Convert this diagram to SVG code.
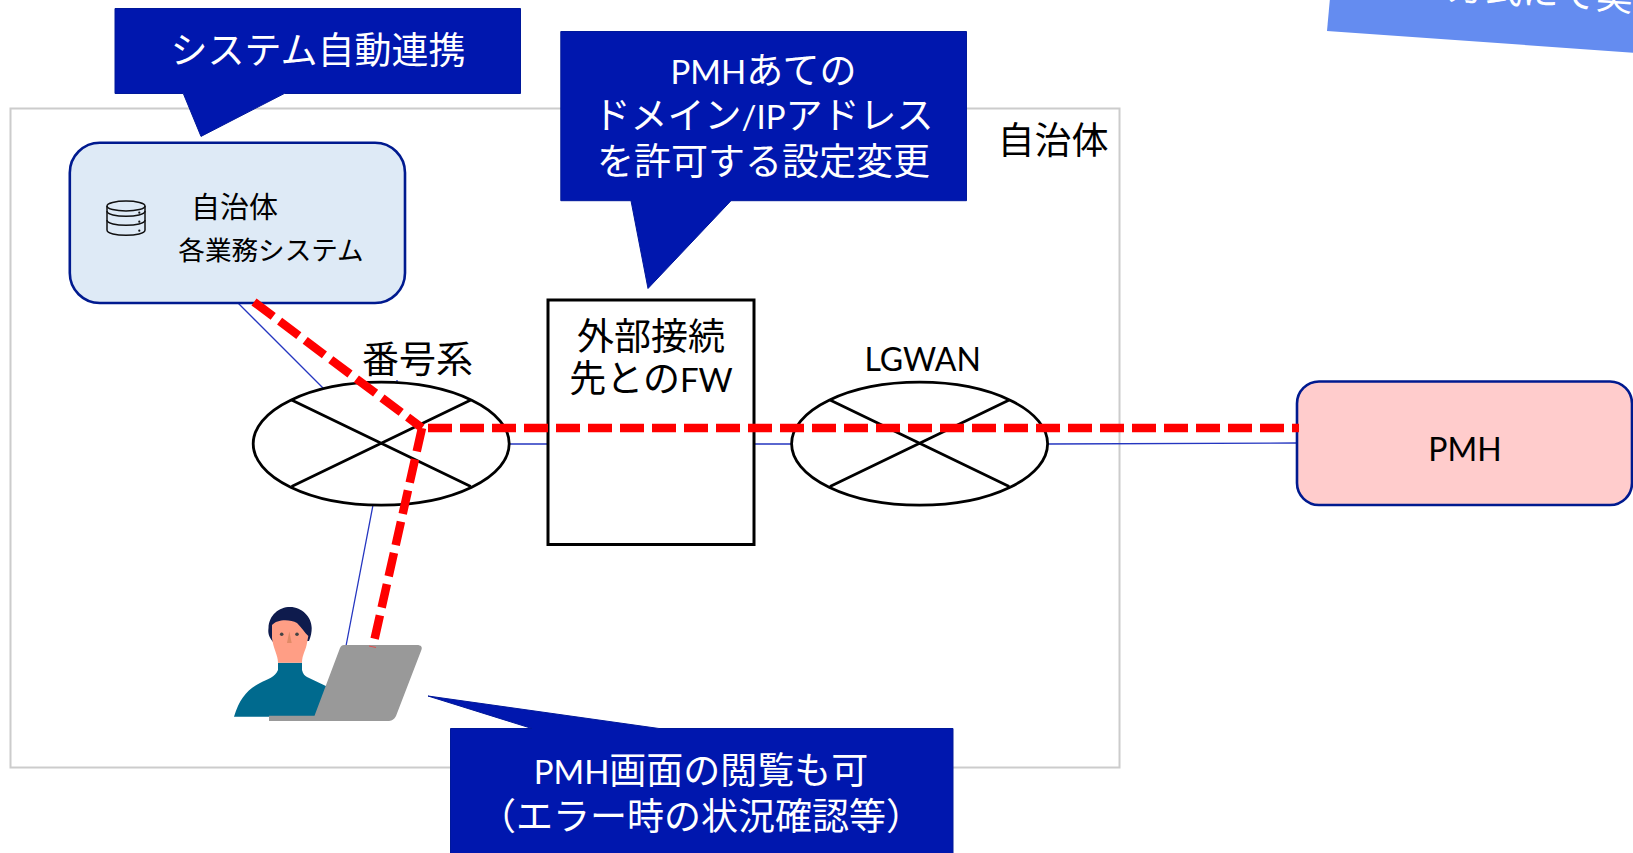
<svg xmlns="http://www.w3.org/2000/svg" width="1633" height="853" viewBox="0 0 1633 853">
<style>
text{font-family:"Lato","Noto Sans CJK JP",sans-serif;text-anchor:middle}
.w{fill:#fff;font-size:37px}
.k{fill:#000;font-size:37px}
.l{font-size:33px}
.co{fill:#0017ae;stroke:#00189a;stroke-width:1}
.rr{stroke:#001a8f;stroke-width:2.6}
.net{fill:#fff;stroke:#000;stroke-width:2.8}
.x{stroke:#000;stroke-width:2.8;fill:none}
.thin{stroke:#2536c0;stroke-width:1.3;fill:none}
.red{stroke:#f00;stroke-width:8.5;stroke-dasharray:24 8;fill:none}
</style>
<rect width="1633" height="853" fill="#fff"/>
<g id="frame"><rect x="10.5" y="108.5" width="1109" height="659" fill="none" stroke="#ccc" stroke-width="2"/><text class="k" x="1053" y="154">自治体</text></g>
<g id="banner"><polygon points="1330,-2 1633,-2 1633,52.7 1327,31" fill="#648cf0"/><text class="w" x="1540" y="5" transform="rotate(3.9 1540 5)">方式にて実</text></g>
<g id="connectors">
<path class="thin" d="M238 303L324 389M397 380V382M510 444H548M754 444H792M1048 444L1297 443M373 505L346 646"/>
</g>
<g id="net1"><ellipse class="net" cx="381.2" cy="443.7" rx="128" ry="61.5"/><path class="x" d="M291.6 400L470.8 486.4M291.6 486.4L470.8 400"/><text class="k" x="417.5" y="372.5">番号系</text></g>
<g id="net2"><ellipse class="net" cx="919.6" cy="443.7" rx="128" ry="61.5"/><path class="x" d="M830 400L1009.2 486.4M830 486.4L1009.2 400"/><text class="k" x="922.7" y="371" style="font-size:32px">LGWAN</text></g>
<g id="fw"><rect x="548" y="300" width="206" height="244.5" fill="#fff" stroke="#000" stroke-width="3"/><text class="k" x="651" y="349.5">外部接続</text><text class="k" x="651" y="391.5">先との<tspan class="l">FW</tspan></text></g>
<g id="sys"><rect class="rr" x="69.8" y="142.7" width="335.2" height="160.3" rx="30" fill="#deeaf6"/>
<g fill="none" stroke="#111" stroke-width="1.5"><path d="M107 206V230C107 237 145 237 145 230V206"/><ellipse cx="126" cy="206" rx="19" ry="5"/><path d="M107 211C107 218 145 218 145 211M107 220C107 227 145 227 145 220"/></g>
<g fill="#111"><circle cx="139.3" cy="212.7" r="1.1"/><circle cx="139.3" cy="221.7" r="1.1"/><circle cx="139.3" cy="230.7" r="1.1"/></g>
<text class="k" x="234.5" y="217.5" style="font-size:29px">自治体</text><text class="k" x="271" y="260" style="font-size:26.6px">各業務システム</text></g>
<g id="pmh"><rect class="rr" x="1297" y="381.5" width="335" height="123.5" rx="22" fill="#fcc"/><text class="k" x="1465" y="461" style="font-size:32px">PMH</text></g>
<g id="person">
<path d="M234 716.7C240 698 247 690 260 683C268 679 275 677 278 670V662.7H302V670C303 674 305 676 307 677L330 688L320 716.7Z" fill="#006a8e"/>
<path d="M273 642C268 636 268 632 268.5 628C269 615 279 607 290 607C302 607 311.7 617 311.7 628C311.7 632 311 636 309 641Z" fill="#0e1b4d"/>
<path d="M272 625C277 619 290 619 297 623C302 628 305 633 308.3 636L307 643C306 650 302 655 302 662.7H278C278 655 273 648 272 638Z" fill="#ff9e85"/>
<circle cx="281.7" cy="634.3" r="1.8" fill="#444"/><circle cx="297" cy="634.3" r="1.8" fill="#444"/><path d="M289.3 631.5L287 643H291.7Z" fill="#e08a66"/>
<path d="M344 645H417C421 645 423 647 421 651L396 716C394 720 391 721 388 721H269V715.7H314.5L340 648C341 646 342 645 344 645Z" fill="#999"/>
<path d="M369 646L376 647.5" stroke="#e05050" fill="none"/>
</g>
<g id="red"><path class="red" d="M254 302L422 428M422 428L373 646"/><path class="red" d="M428 428H1299"/></g>
<g id="c1"><path class="co" d="M115 8.5H520.5V93.5H284.3L201 136.4L183.3 93.5H115Z"/><text class="w" x="318" y="64">システム自動連携</text></g>
<g id="c2"><path class="co" d="M560.8 31.5H966.5V200.7H731L648 288.5L631 200.7H560.8Z"/><text class="w" x="763.5" y="84"><tspan class="l">PMH</tspan>あての</text><text class="w" x="763.5" y="129">ドメイン<tspan class="l">/IP</tspan>アドレス</text><text class="w" x="763.5" y="174.5">を許可する設定変更</text></g>
<g id="c3"><path class="co" d="M450.5 728.5H532L428 696L659 728.5H953V854H450.5Z"/><text class="w" x="701" y="784"><tspan class="l">PMH</tspan>画面の閲覧も可</text><text class="w" x="701" y="830">（エラー時の状況確認等）</text></g>
</svg>
